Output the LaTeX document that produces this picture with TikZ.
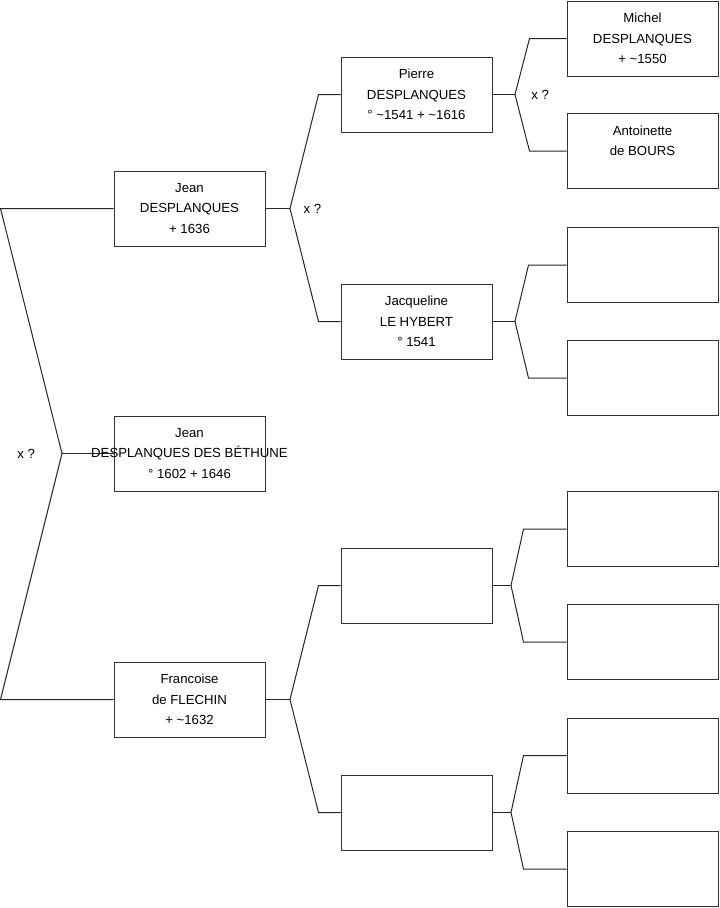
\documentclass[tikz,border=0pt]{standalone}
\usepackage{fontspec}
\setmainfont{Liberation Sans}
\usetikzlibrary{positioning,calc,backgrounds}

\begin{document}
\begin{tikzpicture}[
    x=0.75pt, y=-0.75pt,
    person/.style={draw=black!80, line width=0.75pt, minimum width=113.25pt, minimum height=56.25pt,
        font=\fontsize{9.9}{15.5}\selectfont, align=center, inner sep=0pt},
    link/.style={draw=black!85, line width=0.75pt},
    union/.style={font=\fontsize{9.9}{12}\selectfont, inner sep=1pt}
]
    \useasboundingbox (0,0) rectangle (719,908);

    % Generation 1
    \node[person] (jean) at (189.5,208.5) {Jean\\DESPLANQUES\\+ 1636};
    \node[person] (bethune) at (189.5,453.5) {Jean\\\makebox[0pt]{DESPLANQUES DES BÉTHUNE}\\° 1602 + 1646};
    \node[person] (francoise) at (189.5,699.5) {Francoise\\de FLECHIN\\+ \textasciitilde1632};

    % Generation 2
    \node[person] (pierre) at (416.5,94.5) {Pierre\\DESPLANQUES\\° \textasciitilde1541 + \textasciitilde1616};
    \node[person] (jacqueline) at (416.5,321.5) {Jacqueline\\LE HYBERT\\° 1541};
    \node[person] (pf) at (416.5,585.5) {};
    \node[person] (mf) at (416.5,812.5) {};

    % Generation 3
    \node[person] (michel) at (642.5,38.5) {Michel\\DESPLANQUES\\+ \textasciitilde1550};
    \node[person] (antoinette) at (642.5,151) {Antoinette\\de BOURS\\\mbox{}};
    \node[person] (ppj) at (642.5,265) {};
    \node[person] (mpj) at (642.5,378) {};
    \node[person] (ppf) at (642.5,529) {};
    \node[person] (mpf) at (642.5,642) {};
    \node[person] (pmf) at (642.5,755.5) {};
    \node[person] (mmf) at (642.5,869) {};

    % Forks
    \coordinate (froot) at (62,453.5);
    \coordinate (fjean) at (290,208.5);
    \coordinate (ffran) at (290,699.5);
    \coordinate (fpier) at (515,94.5);
    \coordinate (fjacq) at (515,321.5);
    \coordinate (fpf) at (511,585.5);
    \coordinate (fmf) at (511,812.5);

    % Connectors
    \begin{pgfonlayer}{background}
        \draw[link] (froot) -- (bethune.west);
    \end{pgfonlayer}
    \draw[link] (jean.west) -- ++(-113,0) -- (froot) -- ($(francoise.west)+(-113,0)$) -- (francoise.west);

    \draw[link] (jean.east) -- (fjean);
    \draw[link] (pierre.west) -- ++(-22,0) -- (fjean) -- ($(jacqueline.west)+(-22,0)$) -- (jacqueline.west);
    \draw[link] (francoise.east) -- (ffran);
    \draw[link] (pf.west) -- ++(-22,0) -- (ffran) -- ($(mf.west)+(-22,0)$) -- (mf.west);

    \draw[link] (pierre.east) -- (fpier);
    \draw[link] (michel.west) -- ++(-37,0) -- (fpier) -- ($(antoinette.west)+(-37,0)$) -- (antoinette.west);
    \draw[link] (jacqueline.east) -- (fjacq);
    \draw[link] (ppj.west) -- ++(-38,0) -- (fjacq) -- ($(mpj.west)+(-38,0)$) -- (mpj.west);
    \draw[link] (pf.east) -- (fpf);
    \draw[link] (ppf.west) -- ++(-43,0) -- (fpf) -- ($(mpf.west)+(-43,0)$) -- (mpf.west);
    \draw[link] (mf.east) -- (fmf);
    \draw[link] (pmf.west) -- ++(-43,0) -- (fmf) -- ($(mmf.west)+(-43,0)$) -- (mmf.west);

    % Union labels
    \node[union, left=19pt of froot] (xroot) {x ?};
    \node[union, right=9pt of fjean] (xjean) {x ?};
    \node[union, right=11pt of fpier] (xpier) {x ?};
\end{tikzpicture}
\end{document}
